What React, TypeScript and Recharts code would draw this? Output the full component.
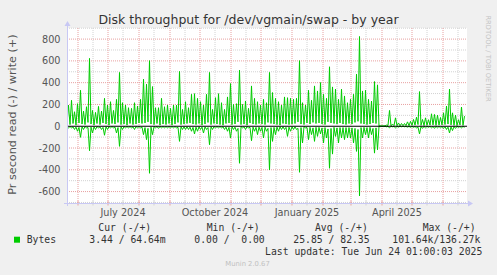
import React from 'react';
import { ComposedChart, Line, XAxis, YAxis, CartesianGrid, ReferenceLine } from 'recharts';

// ---- data: one slot every 3 days, a low then a peak ----
const SLOT_DAYS = 3;
const writePeaks = [
  194,238,133,207,330,139,179,623,145,127,182,139,256,194,225,145,247,494,216,194,170,164,216,185,247,432,
  386,602,364,170,170,256,179,194,164,194,194,503,154,225,170,293,299,256,225,194,293,494,154,262,299,216,154,
  269,392,200,207,515,200,231,164,370,256,225,194,247,216,494,309,256,225,194,269,262,256,247,256,602,216,
  194,330,238,370,324,401,293,256,546,361,340,247,340,278,216,247,293,478,824,324,330,247,231,410,380,
  5,5,10,145,20,77,30,25,25,40,45,62,83,318,62,77,60,114,108,102,80,123,185,340,123,102,60,176,93,
];
const writeLows = [
  20,15,25,10,30,20,15,35,20,10,25,15,30,20,10,25,20,35,15,20,10,25,15,20,30,25,
  30,40,20,15,25,10,20,15,25,10,20,35,15,20,25,30,20,15,25,10,20,35,15,25,20,15,10,
  25,30,15,20,40,15,20,10,30,20,15,25,20,15,35,25,20,15,10,25,20,15,20,25,40,20,
  15,30,20,35,25,30,20,15,40,30,25,20,30,20,15,25,20,35,45,25,20,15,20,30,25,
  2,2,3,8,4,6,5,4,5,6,5,8,10,15,8,6,8,10,12,8,10,12,15,20,12,8,6,12,8,
];
const readPeaks = [
  15,15,30,46,102,30,15,225,62,30,15,30,83,30,15,15,62,185,30,15,15,15,30,15,15,77,
  123,432,77,15,20,15,15,15,15,15,15,139,30,30,30,46,71,46,30,62,30,170,30,15,15,15,30,
  46,108,30,46,340,15,30,15,133,46,77,46,108,46,401,139,77,46,30,30,93,46,30,30,423,154,
  15,123,77,139,93,71,154,108,386,256,93,154,108,123,108,108,154,231,640,108,77,108,77,247,216,
  3,3,5,15,5,15,8,5,5,8,10,10,15,71,20,15,10,15,20,15,15,20,30,62,40,20,10,15,10,
];
const readLows = [
  5,3,6,8,10,5,3,12,8,5,3,6,10,5,3,3,8,12,5,3,3,3,6,3,3,8,
  12,20,8,3,3,3,3,3,3,3,3,10,5,5,5,8,10,8,5,8,5,12,5,3,3,3,5,
  8,10,5,8,20,3,5,3,10,8,10,8,10,8,20,12,10,8,5,5,10,8,5,5,20,12,
  3,12,10,15,10,10,15,12,25,20,10,15,12,12,12,12,15,20,30,12,10,12,10,20,15,
  1,1,1,2,1,2,2,1,1,2,2,2,3,8,3,2,2,2,3,2,2,3,4,8,5,3,2,3,2,
];

// days since start of the 400-day window
const monthDays = [11, 41, 72, 103, 133, 164, 194, 225, 256, 284, 315, 345, 376];
const midDays = [26, 56, 87, 118, 148, 179, 209, 240, 270, 299, 330, 360, 391];
const labelDays = [56, 148, 240, 330];
const labelText = ['July 2024', 'October 2024', 'January 2025', 'April 2025'];
const yTicks = [-600, -400, -200, 0, 200, 400, 600, 800];
const majorY = [-600, -400, -200, 200, 400, 600, 800];
const minorY = [-700, -500, -300, -100, 100, 300, 500, 700, 900];

const legendHeaders = ['Cur (-/+)', 'Min (-/+)', 'Avg (-/+)', 'Max (-/+)'];
const legendValues = ['3.44 / 64.64m', '0.00 /  0.00', '25.85 / 82.35', '101.64k/136.27k'];
const seriesName = 'Bytes';
const lastUpdate = 'Last update: Tue Jun 24 01:00:03 2025';

const data: { day: number; write: number; read: number }[] = [];
writePeaks.forEach((p, k) => {
  data.push({ day: k * SLOT_DAYS, write: writeLows[k], read: -readLows[k] });
  data.push({ day: k * SLOT_DAYS + SLOT_DAYS / 2, write: p, read: -readPeaks[k] });
});

const GREEN = '#00cc00';
const MAJOR = '#e8a0a0';
const MINOR = '#d2d2d2';
const AXIS = '#c8c8f4';
const SANS = '"DejaVu Sans", sans-serif';
const MONO = '"DejaVu Sans Mono", monospace';
const TICK_FILL = '#555555';

const XTick = (props: any) => {
  const { x, y, payload } = props;
  const v = payload.value;
  const isMonth = monthDays.includes(v);
  const li = labelDays.indexOf(v);
  return (
    <g>
      <line x1={x} x2={x} y1={y - 2} y2={y + 2.5} stroke={isMonth ? MAJOR : MINOR} strokeWidth={1} />
      {li >= 0 && (
        <text x={x} y={y + 13} textAnchor="middle" fill={TICK_FILL} fontSize={9.7} fontFamily={SANS}>
          {labelText[li]}
        </text>
      )}
    </g>
  );
};

const YTick = (props: any) => {
  const { y, payload } = props;
  return (
    <text x={60.5} y={y + 3.5} textAnchor="end" fill={TICK_FILL} fontSize={9.7} fontFamily={SANS}>
      {payload.value}
    </text>
  );
};

const headerX = [98.3, 206.7, 315, 422.7];
const valueX = [89.3, 194.3, 293.3, 392.3];

export default function App() {
  return (
    <div style={{ position: 'absolute', left: 0, top: 0, width: 497, height: 275, background: '#f0f0f0', overflow: 'hidden' }}>
      <ComposedChart
        width={497}
        height={275}
        data={data}
        margin={{ top: 28, right: 30, bottom: 52, left: 0 }}
        style={{ position: 'absolute', left: 0, top: 0 }}
      >
        <CartesianGrid horizontal={false} vertical={false} fill="#ffffff" />
        {minorY.map((v) => (
          <ReferenceLine key={'my' + v} y={v} stroke={MINOR} strokeDasharray="1 1" />
        ))}
        {majorY.map((v) => (
          <ReferenceLine key={'My' + v} y={v} stroke={MAJOR} strokeDasharray="1 1" />
        ))}
        {midDays.map((d) => (
          <ReferenceLine key={'mx' + d} x={d} stroke={MINOR} strokeDasharray="1 1" />
        ))}
        {monthDays.map((d) => (
          <ReferenceLine key={'Mx' + d} x={d} stroke={MAJOR} strokeDasharray="1 1" />
        ))}
        <XAxis
          dataKey="day"
          type="number"
          domain={[0, 400]}
          ticks={[...monthDays, ...midDays].sort((a, b) => a - b)}
          interval={0}
          height={20}
          axisLine={false}
          tickLine={false}
          tickSize={0}
          tickMargin={0}
          tick={<XTick />}
          allowDataOverflow
        />
        <YAxis
          type="number"
          domain={[-705, 902]}
          ticks={yTicks}
          interval={0}
          width={67}
          axisLine={false}
          tickLine={false}
          tick={<YTick />}
          allowDataOverflow
        />
        <Line type="linear" dataKey="write" stroke={GREEN} strokeWidth={1} dot={false} activeDot={false} isAnimationActive={false} />
        <Line type="linear" dataKey="read" stroke={GREEN} strokeWidth={1} dot={false} activeDot={false} isAnimationActive={false} />
        <ReferenceLine y={0} stroke="#000000" strokeWidth={1.2} />
      </ComposedChart>
      <svg width={497} height={275} style={{ position: 'absolute', left: 0, top: 0, pointerEvents: 'none' }}>
        <text x={248.5} y={24} textAnchor="middle" fill="#333333" fontSize={12.5} fontFamily={SANS}>
          Disk throughput for /dev/vgmain/swap - by year
        </text>
        <text
          transform="translate(15.5,114.6) rotate(-90)"
          textAnchor="middle"
          fill={TICK_FILL}
          fontSize={11.2}
          fontFamily={SANS}
        >
          Pr second read (-) / write (+)
        </text>
        <text
          transform="translate(486,58.5) rotate(90)"
          textAnchor="middle"
          fill="#c4c4c4"
          fontSize={6.7}
          fontFamily={SANS}
        >
          RRDTOOL / TOBI OETIKER
        </text>
        {/* axes with arrows */}
        <line x1={64} x2={468} y1={203.5} y2={203.5} stroke={AXIS} strokeWidth={1} />
        <polygon points="468,200.5 468,206.5 473,203.5" fill={AXIS} />
        <line x1={67.5} x2={67.5} y1={206} y2={26} stroke={AXIS} strokeWidth={1} />
        <polygon points="64.5,26 70.5,26 67.5,21" fill={AXIS} />
        {/* legend */}
        {legendHeaders.map((h, i) => (
          <text key={h} x={headerX[i]} y={230.5} fill="#333333" fontSize={9.75} fontFamily={MONO} style={{ whiteSpace: 'pre' }}>
            {h}
          </text>
        ))}
        <rect x={14} y={236.7} width={6} height={6} fill={GREEN} />
        <text x={26.7} y={242.7} fill="#333333" fontSize={9.75} fontFamily={MONO}>
          {seriesName}
        </text>
        {legendValues.map((v, i) => (
          <text key={v} x={valueX[i]} y={242.7} fill="#333333" fontSize={9.75} fontFamily={MONO} style={{ whiteSpace: 'pre' }}>
            {v}
          </text>
        ))}
        <text x={482.3} y={254.7} textAnchor="end" fill="#333333" fontSize={9.75} fontFamily={MONO}>
          {lastUpdate}
        </text>
        <text x={247.5} y={266} textAnchor="middle" fill="#c0c0c0" fontSize={6.8} fontFamily={SANS}>
          Munin 2.0.67
        </text>
      </svg>
    </div>
  );
}
